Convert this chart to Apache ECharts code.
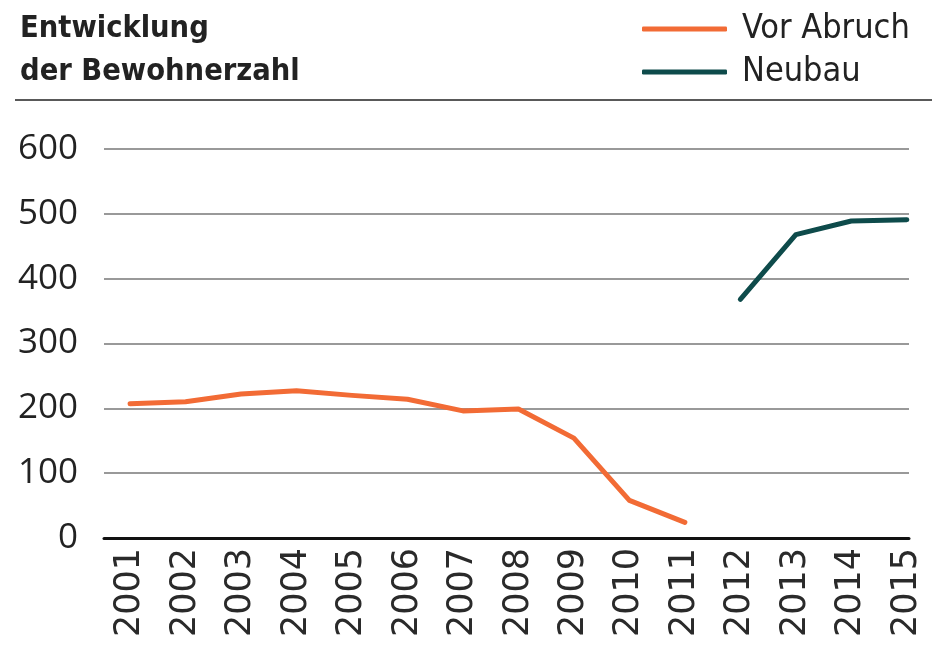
<!DOCTYPE html>
<html>
<head>
<meta charset="utf-8">
<script src="https://cdn.jsdelivr.net/npm/echarts@6/dist/echarts.min.js"></script>
<style>
  html, body { margin: 0; padding: 0; background: #fff; }
  #chart { width: 948px; height: 649px; }
</style>
</head>
<body>
<div id="chart"></div>
<script>
const years = [2001, 2002, 2003, 2004, 2005, 2006, 2007, 2008, 2009, 2010, 2011, 2012, 2013, 2014, 2015]
const vorAbruchYears = [2001, 2002, 2003, 2004, 2005, 2006, 2007, 2008, 2009, 2010, 2011]
const vorAbruch = [207, 210, 222, 227, 220, 214, 196, 199, 154, 58, 24]
const neubauYears = [2012, 2013, 2014, 2015]
const neubau = [368, 468, 489, 491]
const yTicks = [0, 100, 200, 300, 400, 500, 600]

const condensed = '"DejaVu Sans Condensed", "Liberation Sans Narrow", "Roboto", sans-serif'
const plain = '"Open Sans", "Noto Sans", sans-serif'

const chart = echarts.init(document.getElementById('chart'))

chart.setOption({
  animation: false,
  color: ['#f26b35', '#0e4b4b'],
  title: {
    text: 'Entwicklung\nder Bewohnerzahl',
    left: 15,
    top: 3,
    textStyle: {
      fontFamily: condensed,
      fontWeight: 'bold',
      fontSize: 30.5,
      lineHeight: 43,
      color: '#222',
    },
  },
  legend: {
    orient: 'vertical',
    left: 637,
    top: 4,
    itemWidth: 85,
    itemHeight: 5,
    itemGap: 3,
    icon: 'roundRect',
    textStyle: {
      fontFamily: condensed,
      fontSize: 34,
      lineHeight: 40,
      color: '#222',
      padding: [0, 0, 0, 10],
    },
    data: ['Vor Abruch', 'Neubau'],
  },
  graphic: [
    {
      type: 'line',
      shape: { x1: 15, y1: 100, x2: 932, y2: 100 },
      style: { stroke: '#222', lineWidth: 1.5 },
    },
  ],
  grid: {
    left: 104,
    right: 39,
    top: 149,
    bottom: 111,
  },
  xAxis: {
    type: 'value',
    min: 2000.53,
    max: 2015.04,
    splitLine: { show: false },
    axisTick: { show: false },
    axisLine: { lineStyle: { color: '#111', width: 3 } },
    axisLabel: {
      customValues: years,
      rotate: 90,
      margin: 10,
      fontFamily: '"DejaVu Sans", sans-serif',
      fontSize: 35,
      color: '#2a2a2a',
      formatter: (v) => String(v),
    },
  },
  yAxis: {
    type: 'value',
    min: 0,
    max: 600,
    interval: 100,
    axisLine: { show: false },
    axisTick: { show: false },
    splitLine: { lineStyle: { color: '#777', width: 1.5 } },
    axisLabel: {
      customValues: yTicks,
      margin: 26,
      fontFamily: plain,
      fontSize: 35,
      color: '#222',
    },
  },
  series: [
    {
      name: 'Vor Abruch',
      type: 'line',
      symbol: 'none',
      lineStyle: { width: 5, cap: 'round', join: 'round' },
      data: vorAbruchYears.map((y, i) => [y, vorAbruch[i]]),
      z: 3,
    },
    {
      name: 'Neubau',
      type: 'line',
      symbol: 'none',
      lineStyle: { width: 5, cap: 'round', join: 'round' },
      data: neubauYears.map((y, i) => [y, neubau[i]]),
      z: 3,
    },
  ],
})
</script>
</body>
</html>
